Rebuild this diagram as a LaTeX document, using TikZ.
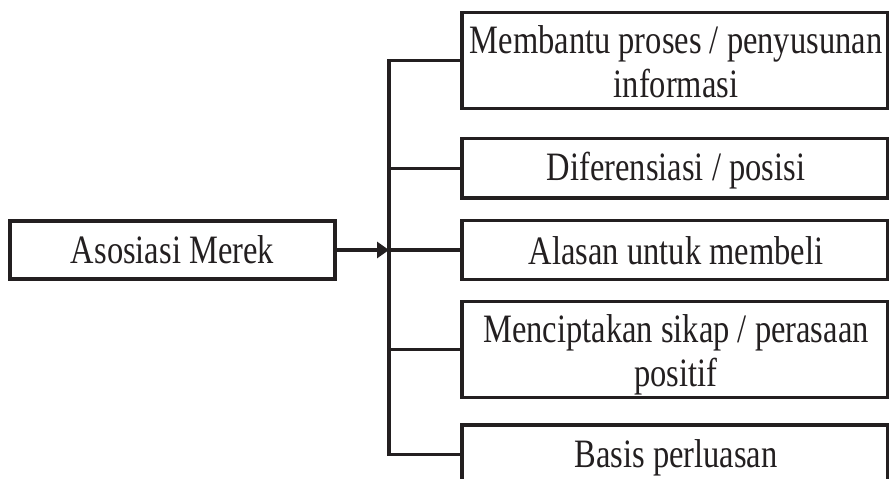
\documentclass[tikz,border=0pt]{standalone}
\usepackage{fontspec}
\setmainfont{Liberation Serif}
\usetikzlibrary{arrows.meta}
\definecolor{ink}{HTML}{231F20}
\newcommand{\talltext}[1]{\scalebox{1}[1.24]{\fontsize{32.5}{35.5}\selectfont\begin{tabular}[t]{@{}c@{}}#1\end{tabular}}}
\begin{document}
\begin{tikzpicture}[x=1pt,y=-1pt,
  line width=3.2pt,
  box/.style={draw=ink, line width=3.2pt, inner sep=0pt, outer sep=0pt},
  txt/.style={inner sep=0pt, outer sep=0pt, anchor=base, text=ink},
  conn/.style={draw=ink, line width=3.2pt, line join=miter}]
\useasboundingbox (0,0) rectangle (889,479);
\clip (0,0) rectangle (889,479);

% boxes
\node[box, minimum width=325pt, minimum height=58pt] (a) at (172.5,250) {};
\node[box, minimum width=425.5pt, minimum height=96pt] (b1) at (674.75,60.3) {};
\node[box, minimum width=425.5pt, minimum height=59.5pt] (b2) at (674.75,168.3) {};
\node[box, minimum width=425.5pt, minimum height=59pt] (b3) at (674.75,250) {};
\node[box, minimum width=425.5pt, minimum height=96pt] (b4) at (674.75,349.7) {};
\node[box, minimum width=425.5pt, minimum height=59pt] (b5) at (674.75,454.5) {};

% texts
\node[txt] (ta) at (172.5,263) {\talltext{Asosiasi Merek}};
\node[txt] (t1) at (676,53) {\talltext{Membantu proses / penyusunan\\informasi}};
\node[txt] (t2) at (676,180) {\talltext{Diferensiasi / posisi}};
\node[txt] (t3) at (676,264) {\talltext{Alasan untuk membeli}};
\node[txt] (t4) at (676,342) {\talltext{Menciptakan sikap / perasaan\\positif}};
\node[txt] (t5) at (676,467) {\talltext{Basis perluasan}};

% connectors
\coordinate (busx) at (389,0);
\draw[conn] (b1.west) -- (b1.west -| busx) -- (b5.west -| busx) -- (b5.west);
\foreach \b in {b2,b3,b4} \draw[conn] (\b.west) -- (\b.west -| busx);
\draw[conn, -{Triangle[length=12pt,width=16pt]}] (a.east) -- (a.east -| busx);
\end{tikzpicture}
\end{document}
